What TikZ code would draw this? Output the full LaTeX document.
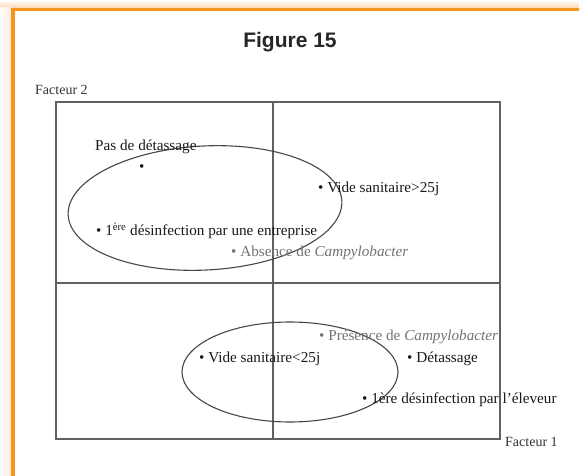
\documentclass[tikz,border=0pt]{standalone}
\usepackage{fontspec}
\setmainfont{Liberation Serif}
\setsansfont{Liberation Sans}
\definecolor{frameor}{RGB}{247,148,29}
\definecolor{peachtop}{RGB}{252,214,178}
\definecolor{peachleft}{RGB}{253,236,218}
\begin{document}
\begin{tikzpicture}[x=1pt,y=-1pt,
  lab/.style={inner sep=0pt, anchor=west, font=\fontsize{15.2}{17}\selectfont, text=black!90},
  glab/.style={lab, text=black!55},
  axlab/.style={inner sep=0pt, font=\fontsize{14}{16}\selectfont, text=black!80},
  axline/.style={draw=black!62, line width=1.2pt},
  ell/.style={draw=black!72, line width=1.1pt}]
\useasboundingbox (0,0) rectangle (579,476);
% background shading
\fill[white] (0,0) rectangle (579,476);
\shade[top color=white, bottom color=peachtop] (0,0) rectangle (579,8);
\shade[left color=white, right color=peachleft] (0,8) rectangle (11,476);
\fill[frameor] (11,8) rectangle (579,11.5);
\fill[frameor] (11,8) rectangle (14.5,476);
% title
\node[inner sep=0pt, font=\sffamily\bfseries\fontsize{21}{24}\selectfont, text=black!85] (title) at (290,42) {Figure 15};
% axes
\draw[axline] (56,102) rectangle (500,439);
\draw[axline] (273,102) -- (273,439);
\draw[axline] (56,283) -- (500,283);
\node[axlab, anchor=west] (f2) at (35,90) {Facteur 2};
\node[axlab, anchor=west] (f1) at (505,442) {Facteur 1};
% ellipses
\draw[ell, rotate around={3:(205,208)}] (205,208) ellipse [x radius=137, y radius=62];
\draw[ell] (290,372) ellipse [x radius=108, y radius=50];
% labels
\node[lab] (pas) at (95,147) {Pas de détassage};
\node[lab] (pasdot) at (139,168) {•};
\node[lab] (d1) at (96,231) {• 1\textsuperscript{ère} désinfection par une entreprise};
\node[glab] (abs) at (231,253) {• Absence de \textit{Campylobacter}};
\node[lab] (vs1) at (318,189) {• Vide sanitaire>25j};
\node[glab] (pres) at (319,337) {• Présence de \textit{Campylobacter}};
\node[lab] (vs2) at (199,359) {• Vide sanitaire<25j};
\node[lab] (det) at (407,359) {• Détassage};
\node[lab] (d2) at (362,400) {• 1ère désinfection par l’éleveur};
\end{tikzpicture}
\end{document}
